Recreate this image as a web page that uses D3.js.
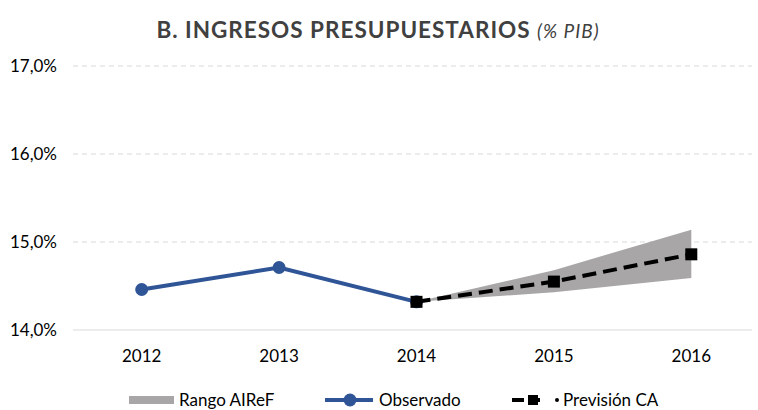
<!DOCTYPE html>
<html>
<head>
<meta charset="utf-8">
<script src="https://cdn.jsdelivr.net/npm/d3@7"></script>
<style>
  body { margin: 0; background: #fff; }
  text { font-family: Lato, "Open Sans", sans-serif; fill: #000; }
</style>
</head>
<body>
<div id="viz"></div>
<script>
const width = 758;
const height = 410;
const margin = {top: 66, right: -2, bottom: 80, left: 73};

// data
const years = ['2012', '2013', '2014', '2015', '2016'];
const observado = [14.46, 14.71, 14.32, null, null];
const prevision = [null, null, 14.32, 14.55, 14.86];
const rangoLow = [null, null, 14.32, 14.43, 14.59];
const rangoHigh = [null, null, 14.32, 14.68, 15.14];
const yTicks = [14, 15, 16, 17];

const blue = '#2f5597';
const grey = '#a8a6a6';

const svg = d3.select('#viz')
  .append('svg')
    .attr('width', width)
    .attr('height', height);

const x = d3.scalePoint()
  .domain(years)
  .range([margin.left, width - margin.right])
  .padding(0.5);

const y = d3.scaleLinear()
  .domain([14, 17])
  .range([height - margin.bottom, margin.top]);

// title
const title = svg.append('text')
  .attr('x', 378)
  .attr('y', 38)
  .attr('text-anchor', 'middle')
  .style('font-size', '22.5px')
  .style('letter-spacing', '1px')
  .style('fill', '#404040');
title.append('tspan').text('B. INGRESOS PRESUPUESTARIOS ').style('font-weight', 'bold').style('fill', '#404040');
title.append('tspan').text('(% PIB)').style('font-style', 'italic').style('font-size', '19px').style('fill', '#404040');

// gridlines
svg.append('g')
  .selectAll('line')
  .data(yTicks)
  .join('line')
    .attr('x1', margin.left)
    .attr('x2', 752)
    .attr('y1', d => y(d))
    .attr('y2', d => y(d))
    .attr('stroke', '#d9d9d9')
    .attr('stroke-width', 1)
    .attr('stroke-dasharray', d => d === 14 ? null : '5,4');

// y labels
const fmt = d => d3.format('.1f')(d).replace('.', ',') + '%';
svg.append('g')
  .selectAll('text')
  .data(yTicks)
  .join('text')
    .attr('x', 57)
    .attr('y', d => y(d) + 6)
    .attr('text-anchor', 'end')
    .style('font-size', '17px')
    .text(fmt);

// x labels
svg.append('g')
  .selectAll('text')
  .data(years)
  .join('text')
    .attr('x', d => x(d))
    .attr('y', 362)
    .attr('text-anchor', 'middle')
    .style('font-size', '17px')
    .text(d => d);

// range area
const rango = years.map((d, i) => ({year: d, lo: rangoLow[i], hi: rangoHigh[i]})).filter(d => d.lo !== null);
svg.append('path')
  .attr('d', d3.area().x(d => x(d.year)).y0(d => y(d.lo)).y1(d => y(d.hi))(rango))
  .attr('fill', grey);

// observed line
const obs = years.map((d, i) => ({year: d, v: observado[i]})).filter(d => d.v !== null);
svg.append('path')
  .attr('d', d3.line().x(d => x(d.year)).y(d => y(d.v))(obs))
  .attr('fill', 'none')
  .attr('stroke', blue)
  .attr('stroke-width', 4);
svg.append('g')
  .selectAll('circle')
  .data(obs)
  .join('circle')
    .attr('cx', d => x(d.year))
    .attr('cy', d => y(d.v))
    .attr('r', 6.5)
    .attr('fill', blue);

// forecast line
const prev = years.map((d, i) => ({year: d, v: prevision[i]})).filter(d => d.v !== null);
svg.append('path')
  .attr('d', d3.line().x(d => x(d.year)).y(d => y(d.v))(prev))
  .attr('fill', 'none')
  .attr('stroke', '#000')
  .attr('stroke-width', 4)
  .attr('stroke-dasharray', '14,7');
svg.append('g')
  .selectAll('rect')
  .data(prev)
  .join('rect')
    .attr('x', d => x(d.year) - 6)
    .attr('y', d => y(d.v) - 6)
    .attr('width', 12)
    .attr('height', 12)
    .attr('fill', '#000');

// legend
const leg = svg.append('g').attr('transform', 'translate(0,400)');
leg.append('rect')
  .attr('x', 129).attr('y', -4).attr('width', 45).attr('height', 8)
  .attr('fill', grey);
leg.append('text').attr('x', 179).attr('y', 6).style('font-size', '17px').text('Rango AIReF');

leg.append('line')
  .attr('x1', 325).attr('x2', 373).attr('y1', 0).attr('y2', 0)
  .attr('stroke', blue).attr('stroke-width', 4);
leg.append('circle').attr('cx', 350).attr('cy', 0).attr('r', 6.5).attr('fill', blue);
leg.append('text').attr('x', 379).attr('y', 6).style('font-size', '17px').text('Observado');

leg.append('line')
  .attr('x1', 512).attr('x2', 540).attr('y1', 0).attr('y2', 0)
  .attr('stroke', '#000').attr('stroke-width', 4).attr('stroke-dasharray', '12,7');
leg.append('rect').attr('x', 528).attr('y', -5).attr('width', 10).attr('height', 10).attr('fill', '#000');
leg.append('circle').attr('cx', 557).attr('cy', 0).attr('r', 2).attr('fill', '#000');
leg.append('text').attr('x', 563).attr('y', 6).style('font-size', '17px').text('Previsión CA');
</script>
</body>
</html>
